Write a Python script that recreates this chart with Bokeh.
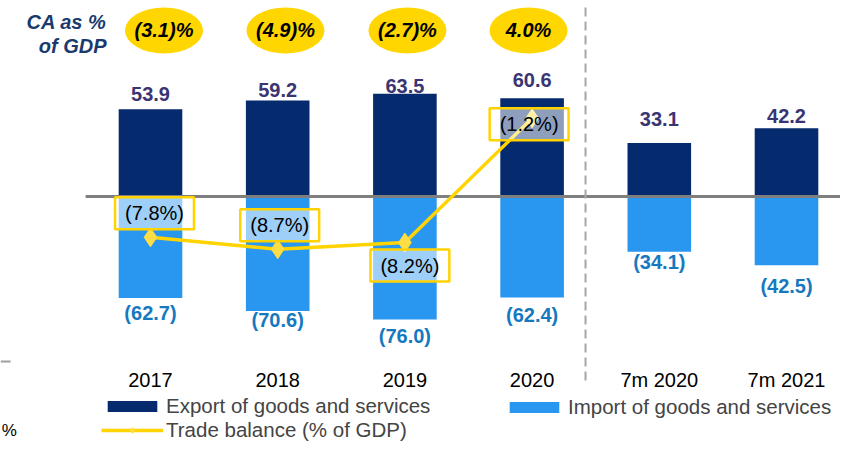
from bokeh.plotting import figure
from bokeh.models import Range1d, ColumnDataSource, Legend, LegendItem
from bokeh.core.properties import value
from bokeh.embed import file_html
from bokeh.resources import INLINE

# ---------------- data ----------------
categories = ["2017", "2018", "2019", "2020", "7m 2020", "7m 2021"]
exports = [53.9, 59.2, 63.5, 60.6, 33.1, 42.2]
imports = [-62.7, -70.6, -76.0, -62.4, -34.1, -42.5]
export_labels = ["53.9", "59.2", "63.5", "60.6", "33.1", "42.2"]
import_labels = ["(62.7)", "(70.6)", "(76.0)", "(62.4)", "(34.1)", "(42.5)"]

tb_categories = ["2017", "2018", "2019", "2020"]
trade_balance = [-7.8, -8.7, -8.2, 1.2]
trade_balance_labels = ["(7.8%)", "(8.7%)", "(8.2%)", "(1.2%)"]

ca_categories = ["2017", "2018", "2019", "2020"]
ca_labels = ["(3.1)%", "(4.9)%", "(2.7)%", "4.0%"]

# ---------------- styles ----------------
FONT = "Liberation Sans"
NAVY = "#052A6E"
BLUE = "#2996EF"
EXP_TXT = "#3A3572"
IMP_TXT = "#1679C0"
GOLD = "#FFD600"
LINE_Y = "#FFD400"
DIAMOND = "#FFDD44"
BOX_Y = "#FFD200"
CA_TXT = "#1A3A6E"

idx = {c: i for i, c in enumerate(categories)}
xs = [idx[c] for c in categories]

p = figure(width=840, height=442, output_backend="svg", toolbar_location=None,
           x_range=Range1d(-1.1792, 5.4245), y_range=Range1d(-151.85, 120.99),
           x_axis_type=None, y_axis_type=None, min_border=0,
           min_border_left=0, min_border_right=0, min_border_top=0, min_border_bottom=0)
p.outline_line_color = None
p.background_fill_color = "white"
p.extra_y_ranges = {"tb": Range1d(-23.32, 10.11)}

src = ColumnDataSource(dict(
    x=xs, cat=categories, exp=exports, imp=imports,
    exp_lab=export_labels, imp_lab=import_labels,
    exp_dy=[-15.5, -10.5, -8, -18, -23.5, -12.5],
    imp_dy=[15, 9.5, 16, 17, 10.5, 20.6],
))

exp_r = p.vbar(x="x", top="exp", bottom=0, width=0.5, source=src,
               fill_color=NAVY, line_color=None)
imp_r = p.vbar(x="x", top=0, bottom="imp", width=0.5, source=src,
               fill_color=BLUE, line_color=None)

# zero line and period separator
p.segment(x0=-0.51, y0=0, x1=5.47, y1=0, line_color="#7F7F7F", line_width=3)
p.segment(x0=3.42, y0=-113.6, x1=3.42, y1=117, line_color="#A6A6A6",
          line_width=2, line_dash="9 5")
# small stub at the far left
p.segment(x0=-1.179, y0=-101.9, x1=-1.10, y1=-101.9, line_color="#A0A0A0", line_width=2)

# value labels
p.text(x="x", y="exp", text="exp_lab", y_offset="exp_dy", source=src,
       text_align="center", text_baseline="middle", text_font=value(FONT),
       text_font_style=value("bold"), text_font_size=value("20px"), text_color=EXP_TXT)
p.text(x="x", y="imp", text="imp_lab", y_offset="imp_dy", source=src,
       text_align="center", text_baseline="middle", text_font=value(FONT),
       text_font_style=value("bold"), text_font_size=value("20px"), text_color=IMP_TXT)

# category labels
p.text(x="x", y=-113.0, text="cat", source=src, text_align="center",
       text_baseline="middle", text_font=value(FONT), text_font_size=value("20px"),
       text_color="black")

# trade balance line
tb_src = ColumnDataSource(dict(
    x=[idx[c] for c in tb_categories], tb=trade_balance, lab=trade_balance_labels,
    dx=[4, 2, 5, -3], dy=[-24, -24, 23, 6],
))
tb_line = p.line(x="x", y="tb", source=tb_src, y_range_name="tb",
                 line_color=LINE_Y, line_width=3.5)
tb_pts = p.scatter(x="x", y="tb", source=tb_src, y_range_name="tb", marker="diamond",
                   size=19, fill_color=DIAMOND, line_color=DIAMOND)
p.text(x="x", y="tb", text="lab", x_offset="dx", y_offset="dy", source=tb_src,
       y_range_name="tb", text_align="center", text_baseline="middle",
       text_font=value(FONT), text_font_size=value("20px"), text_color="black",
       background_fill_color="white", background_fill_alpha=0.55,
       border_line_color=BOX_Y, border_line_width=2.5, padding=(10, 5))

# CA as % of GDP ellipses
ca_src = ColumnDataSource(dict(
    x=[idx[c] for c in ca_categories], lab=ca_labels,
    dx=[0.106, 0.061, 0.02, -0.028],
))
ca_src.data["xe"] = [a + b for a, b in zip(ca_src.data["x"], ca_src.data["dx"])]
p.ellipse(x="xe", y=102.5, width=78, height=46, width_units="screen",
          height_units="screen", source=ca_src, fill_color=GOLD, line_color=None)
p.text(x="xe", y=102.5, text="lab", source=ca_src, text_align="center",
       text_baseline="middle", text_font=value(FONT),
       text_font_style=value("bold italic"), text_font_size=value("20px"),
       text_color="black")

p.text(x=[-0.346, -0.346], y=[107.6, 92.7], text=["CA as %", "of GDP"],
       text_align="right", text_baseline="middle", text_font=value(FONT),
       text_font_style=value("bold italic"), text_font_size=value("20px"),
       text_color=CA_TXT)

# fragment at the far left
p.text(x=[-1.170], y=[-144.5], text=["%"], text_align="left", text_baseline="middle",
       text_font=value(FONT), text_font_size=value("17px"), text_color="black")

# legends
common = dict(background_fill_alpha=0, border_line_color=None,
              label_text_font=FONT, label_text_font_size="20.5px",
              label_standoff=3, glyph_width=62, glyph_height=14,
              label_height=23, spacing=0, padding=0, margin=0)
leg1 = Legend(items=[LegendItem(label="Export of goods and services", renderers=[exp_r]),
                     LegendItem(label="Trade balance (% of GDP)", renderers=[tb_line, tb_pts])],
              location=(101, 0), orientation="vertical", **common)
leg2 = Legend(items=[LegendItem(label="Import of goods and services", renderers=[imp_r])],
              location=(503, 23), orientation="vertical", **common)
p.add_layout(leg1)
p.add_layout(leg2)

open("out.html", "w").write(file_html(p, INLINE))
